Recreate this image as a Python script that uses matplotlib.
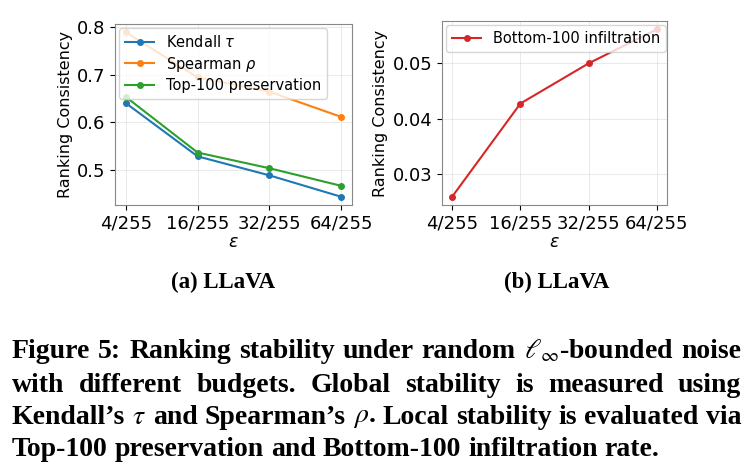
import matplotlib
matplotlib.use("Agg")
import matplotlib.pyplot as plt

# data
eps_labels = ['4/255', '16/255', '32/255', '64/255']
kendall = [0.640, 0.528, 0.488, 0.443]
spearman = [0.789, 0.694, 0.664, 0.611]
top100 = [0.653, 0.536, 0.503, 0.466]
bottom100 = [0.0260, 0.0427, 0.0499, 0.0560]

subcaps = ['(a) LLaVA', '(b) LLaVA']
caption_lines = [
    r"Figure 5: Ranking stability under random $\ell_\infty$-bounded noise",
    "with different budgets. Global stability is measured using",
    r"Kendall’s $\tau$ and Spearman’s $\rho$. Local stability is evaluated via",
    "Top-100 preservation and Bottom-100 infiltration rate.",
]

W, H = 753, 475
fig = plt.figure(figsize=(W / 100, H / 100), dpi=100)

def px_axes(x0, x1, y0, y1):
    return fig.add_axes([x0 / W, 1 - y1 / H, (x1 - x0) / W, (y1 - y0) / H])

ax1 = px_axes(115, 352, 24, 205)
ax2 = px_axes(442, 667, 21, 205)

x = list(range(len(eps_labels)))
ax1.plot(x, kendall, '-o', color='tab:blue', ms=4, lw=1.5, label=r'Kendall $\tau$')
ax1.plot(x, spearman, '-o', color='tab:orange', ms=4, lw=1.5, label=r'Spearman $\rho$')
ax1.plot(x, top100, '-o', color='tab:green', ms=4, lw=1.5, label='Top-100 preservation')
ax2.plot(x, bottom100, '-o', color='tab:red', ms=4, lw=1.5, label='Bottom-100 infiltration')

for ax in (ax1, ax2):
    ax.set_xticks(x)
    ax.set_xticklabels(eps_labels)
    ax.tick_params(labelsize=13, length=3.5)
    ax.set_xlabel(r'$\varepsilon$', fontsize=12.5, labelpad=0)
    ax.set_ylabel('Ranking Consistency', fontsize=11.5, labelpad=3)
    ax.grid(True, alpha=0.3, lw=0.6)
    for s in ax.spines.values():
        s.set_color('#888888')
    ax.legend(loc='upper left', fontsize=10.5, handlelength=2.0, borderaxespad=0.3,
              labelspacing=0.3)

ax1.set_yticks([0.5, 0.6, 0.7, 0.8])
ax2.set_yticks([0.03, 0.04, 0.05])

serif = ['Liberation Serif', 'DejaVu Serif']
fig.text(223 / W, 1 - 282 / H, subcaps[0], ha='center', va='center', fontsize=16.5,
         family=serif, weight='bold')
fig.text(557 / W, 1 - 282 / H, subcaps[1], ha='center', va='center', fontsize=16.5,
         family=serif, weight='bold')

# justified caption, word by word
renderer = fig.canvas.get_renderer()
left_px, right_px = 12, 741
line_y = [351, 385, 418, 450]
for i, line in enumerate(caption_lines):
    words = line.split(' ')
    texts = [fig.text(0, 1 - line_y[i] / H, w, ha='left', va='center', fontsize=20,
                      family=serif, weight='bold', math_fontfamily='stix') for w in words]
    widths = [t.get_window_extent(renderer).width for t in texts]
    if i < len(caption_lines) - 1:
        gap = (right_px - left_px - sum(widths)) / (len(words) - 1)
    else:
        gap = 7
    pos = left_px
    for t, wd in zip(texts, widths):
        t.set_x(pos / W)
        pos += wd + gap

fig.savefig('out.png', dpi=100)
